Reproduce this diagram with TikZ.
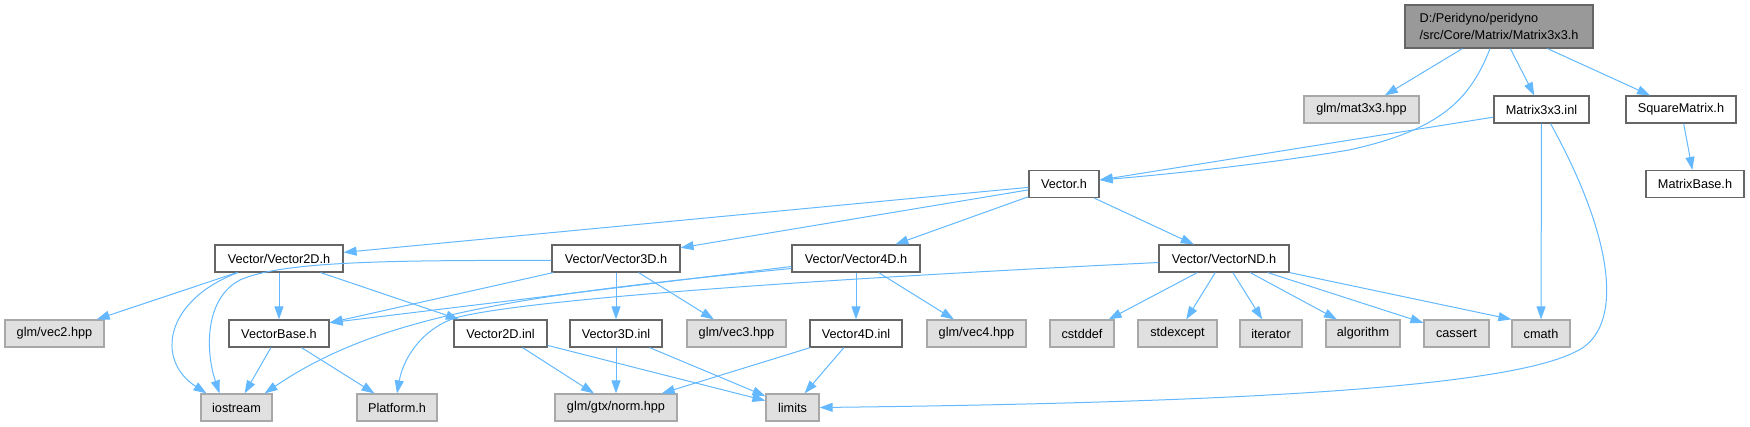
\documentclass[tikz,border=0pt]{standalone}
\usepackage{fontspec}
\setmainfont{Liberation Sans}
\usetikzlibrary{arrows.meta}
\definecolor{edgeblue}{HTML}{63B8FF}
\definecolor{boxedge}{HTML}{666666}
\definecolor{sysedge}{HTML}{A8A8A8}
\definecolor{sysfill}{HTML}{E0E0E0}
\definecolor{rootfill}{HTML}{999999}
\newcommand{\doxfont}{\fontsize{12.7}{17}\selectfont}

\begin{document}
\begin{tikzpicture}[x=1pt, y=-1pt,
  file/.style={draw=boxedge, fill=white, line width=1.2pt, minimum height=27, inner sep=0pt, font=\doxfont},
  sysfile/.style={file, draw=sysedge, fill=sysfill},
  dep/.style={draw=edgeblue, line width=1pt, -{Triangle[length=13pt,width=9pt]}}]
\useasboundingbox (0,0) rectangle (1750,427);

% Matrix header and its direct includes
\node[file, fill=rootfill, minimum width=188, minimum height=43, align=left] (root) at (1499,26.5) {D:/Peridyno/peridyno\\/src/Core/Matrix/Matrix3x3.h};
\node[sysfile, minimum width=115] (mat3x3) at (1361.5,109.5) {glm/mat3x3.hpp};
\node[file, minimum width=95] (m3inl) at (1541.5,109.5) {Matrix3x3.inl};
\node[file, minimum width=110] (sqmat) at (1681,109.5) {SquareMatrix.h};
\node[file, minimum width=98] (mbase) at (1695,184) {MatrixBase.h};
\node[file, minimum width=70] (vech) at (1064,184) {Vector.h};

% Vector headers
\node[file, minimum width=128] (v2h) at (279,258.5) {Vector/Vector2D.h};
\node[file, minimum width=128] (v3h) at (616,258.5) {Vector/Vector3D.h};
\node[file, minimum width=128] (v4h) at (856,258.5) {Vector/Vector4D.h};
\node[file, minimum width=130] (vndh) at (1224,258.5) {Vector/VectorND.h};

% third row
\node[sysfile, minimum width=99] (vec2) at (54.5,333.5) {glm/vec2.hpp};
\node[file, minimum width=100] (vbase) at (279,333.5) {VectorBase.h};
\node[file, minimum width=93] (v2inl) at (500.5,333.5) {Vector2D.inl};
\node[file, minimum width=92] (v3inl) at (616,333.5) {Vector3D.inl};
\node[sysfile, minimum width=99] (vec3) at (736.5,333.5) {glm/vec3.hpp};
\node[file, minimum width=92] (v4inl) at (856,333.5) {Vector4D.inl};
\node[sysfile, minimum width=99] (vec4) at (976.5,333.5) {glm/vec4.hpp};
\foreach \n/\x/\w in {cstddef/1082/64, stdexcept/1177.5/79, iterator/1271/62, algorithm/1363/74, cassert/1456.5/65, cmath/1541/58}
  \node[sysfile, minimum width=\w] (\n) at (\x,333.5) {\n};

% bottom row
\node[sysfile, minimum width=71] (iostream) at (236.5,407.5) {iostream};
\node[sysfile, minimum width=80] (platform) at (397,407.5) {Platform.h};
\node[sysfile, minimum width=122] (norm) at (616,407.5) {glm/gtx/norm.hpp};
\node[sysfile, minimum width=53] (limits) at (792.5,407.5) {limits};

% edges from the top
\draw[dep] (root) -- (mat3x3);
\draw[dep] (root) -- (m3inl);
\draw[dep] (root) -- (sqmat);
\draw[dep] ([xshift=-9pt]root.south) .. controls (1470,100) and (1440,130) .. (1349,150)
  .. controls (1260,165) and (1160,175) .. ([yshift=4pt]vech.east);
\draw[dep] (sqmat) -- (mbase);
\draw[dep] (m3inl) -- ([yshift=4pt]vech.east);
\draw[dep] (m3inl) -- (cmath);
\draw[dep] ([xshift=9pt]m3inl.south) .. controls (1615,240) and (1625,330) .. (1575,352)
  .. controls (1500,390) and (1200,403) .. (limits.east);

% Vector.h
\foreach \n in {v2h, v3h, v4h, vndh}
  \draw[dep] (vech) -- (\n);

% Vector2D.h
\draw[dep] (v2h) -- (vec2);
\draw[dep] (v2h) -- (vbase);
\draw[dep] (v2h) -- (v2inl);
\draw[dep] ([xshift=-41pt]v2h.south) .. controls (165,300) and (155,360) .. ([xshift=-30pt]iostream.north);

% Vector3D.h
\draw[dep] (v3h) -- (v3inl);
\draw[dep] (v3h) -- (vec3);
\draw[dep] (v3h) -- (vbase.12);
\draw[dep] ([yshift=-2pt]v3h.west) .. controls (380,260) and (280,262) .. (240,280)
  .. controls (205,298) and (205,350) .. ([xshift=-17pt]iostream.north);

% Vector4D.h
\draw[dep] (v4h) -- (v4inl);
\draw[dep] (v4h) -- (vec4);
\draw[dep] ([yshift=-8pt]v4h.west) -- (vbase.12);
\draw[dep] ([yshift=-10pt]v4h.west) .. controls (520,295) and (380,315) .. ([xshift=-8pt]iostream.north east);

% VectorND.h
\foreach \n in {cstddef, stdexcept, iterator, algorithm, cassert}
  \draw[dep] (vndh) -- (\n);
\draw[dep] (vndh.south east) -- (cmath.north west);
\draw[dep] ([yshift=-4pt]vndh.west) .. controls (800,280) and (520,300) .. (455,318)
  .. controls (420,330) and (403,360) .. (platform.north);

% VectorBase.h and the inl files
\draw[dep] (vbase) -- (iostream);
\draw[dep] (vbase) -- (platform);
\foreach \n in {v2inl, v3inl, v4inl} {
  \draw[dep] (\n) -- (norm);
  \draw[dep] (\n) -- (limits);
}
\end{tikzpicture}
\end{document}
